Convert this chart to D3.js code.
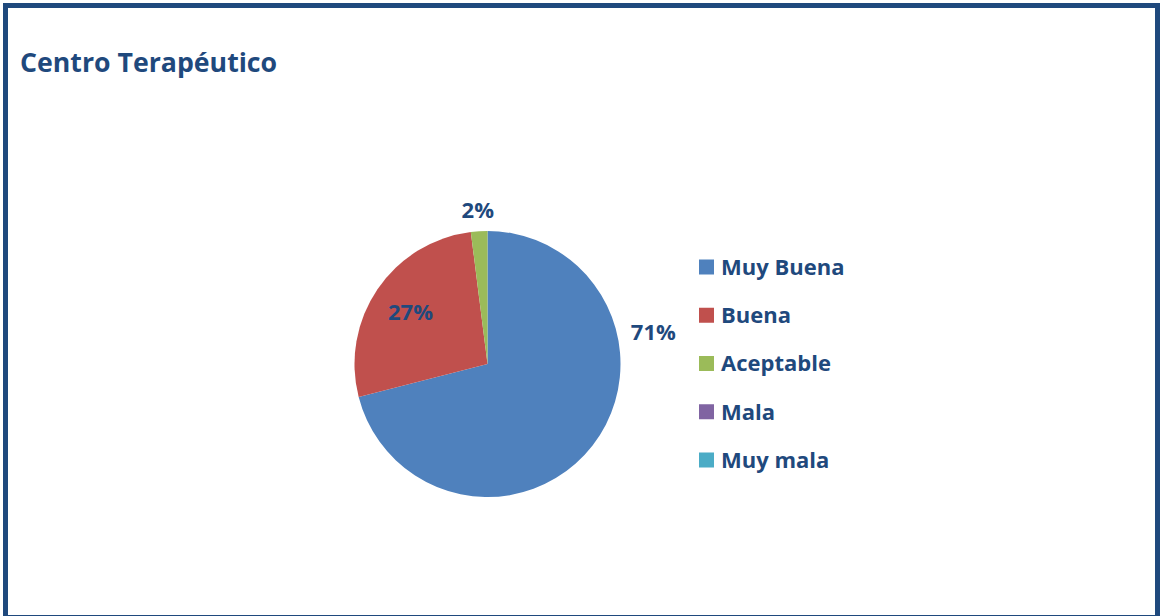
<!DOCTYPE html>
<html>
<head>
<meta charset="utf-8">
<script src="https://cdn.jsdelivr.net/npm/d3@7"></script>
<style>
  html, body { margin: 0; padding: 0; background: #fff; }
  text { font-family: "Open Sans", Lato, "Liberation Sans", sans-serif; font-weight: bold; }
</style>
</head>
<body>
<svg id="chart" width="1160" height="616"></svg>
<script>
// data (percentages)
const categories = ["Muy Buena", "Buena", "Aceptable", "Mala", "Muy mala"];
const values = [71, 27, 2, 0, 0];
const colors = ["#4F81BD", "#C0504D", "#9BBB59", "#8064A2", "#4BACC6"];
const title = "Centro Terapéutico";

const ink = "#1F497D";
const svg = d3.select("#chart");

// frame
svg.append("rect")
  .attr("x", 5.5).attr("y", 5.5)
  .attr("width", 1152).attr("height", 612)
  .attr("fill", "#fff")
  .attr("stroke", ink).attr("stroke-width", 5);

svg.append("text")
  .attr("x", 20).attr("y", 72)
  .attr("fill", ink)
  .style("font-size", "26.7px")
  .text(title);

// pie
const cx = 487.5, cy = 364, r = 133;
const total = d3.sum(values);
const pie = d3.pie().sort(null).value(d => d)(values);
const arc = d3.arc().innerRadius(0).outerRadius(r);

const g = svg.append("g").attr("transform", `translate(${cx},${cy})`);
g.selectAll("path")
  .data(pie.filter(d => d.data > 0))
  .join("path")
  .attr("d", arc)
  .attr("fill", d => colors[d.index]);

// label placement (Excel "best fit"): radius factor and angle in degrees (null = slice middle)
const labelPos = {
  0: { k: 1.27, ang: 79 },
  1: { k: 0.70, ang: null },
  2: { k: 1.16, ang: null }
};
function labelXY(d) {
  const p = labelPos[d.index];
  const a = p.ang == null ? (d.startAngle + d.endAngle) / 2 : p.ang * Math.PI / 180;
  return d3.arc().innerRadius(r * p.k).outerRadius(r * p.k).centroid({ startAngle: a, endAngle: a });
}
g.selectAll("text.lbl")
  .data(pie.filter(d => d.data > 0))
  .join("text")
  .attr("class", "lbl")
  .attr("transform", d => `translate(${labelXY(d)})`)
  .attr("text-anchor", "middle")
  .attr("dy", "0.36em")
  .attr("fill", ink)
  .style("font-size", "22px")
  .text(d => Math.round(d.data / total * 100) + "%");

// legend
const ly = d3.scalePoint().domain(categories).range([267, 460]);
const leg = svg.append("g").selectAll("g")
  .data(categories)
  .join("g")
  .attr("transform", d => `translate(699,${ly(d)})`);
leg.append("rect")
  .attr("x", 0).attr("y", -7.5)
  .attr("width", 15).attr("height", 15)
  .attr("fill", (d, i) => colors[i]);
leg.append("text")
  .attr("x", 22).attr("dy", "0.36em")
  .attr("fill", ink)
  .style("font-size", "22px")
  .text(d => d);
</script>
</body>
</html>
